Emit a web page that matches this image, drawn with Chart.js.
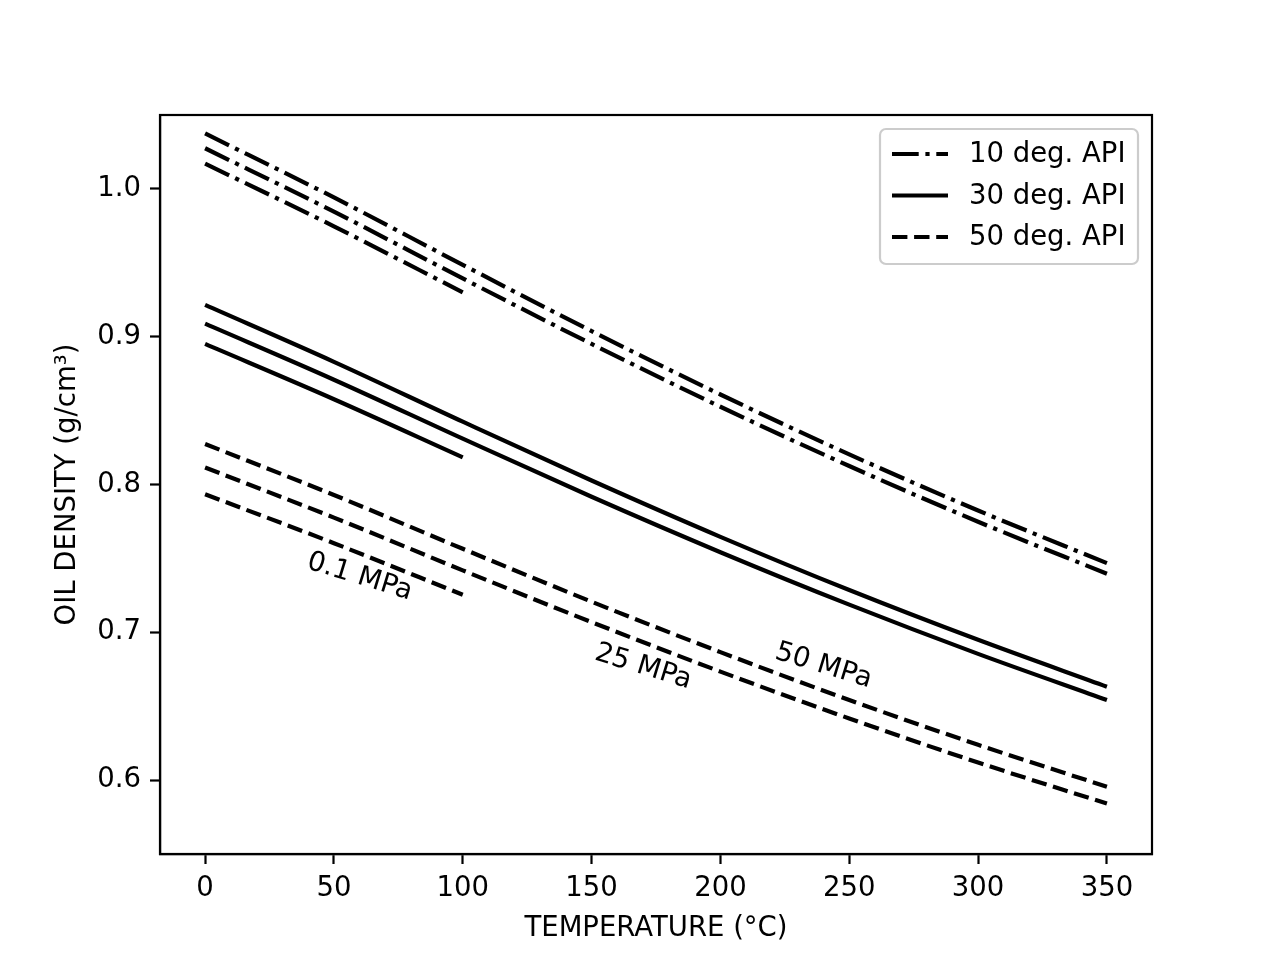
<!DOCTYPE html>
<html>
<head>
<meta charset="utf-8">
<script src="https://cdn.jsdelivr.net/npm/chart.js@4/dist/chart.umd.min.js"></script>
<style>
  html, body { margin: 0; padding: 0; background: #fff; }
  #wrap { width: 1280px; height: 960px; }
</style>
</head>
<body>
<div id="wrap"><canvas id="density-chart" width="1280" height="960"></canvas></div>
<script>
// temperature points (°C)
var temps = [0, 50, 100, 150, 200, 250, 300, 350];

// oil density, g/cm3 (0.1 MPa curves only go to 100 °C)
var api10_p01 = [1.0171, 0.9747, 0.9300, null, null, null, null, null];
var api10_p25 = [1.0275, 0.9846, 0.9394, 0.8951, 0.8526, 0.8125, 0.7748, 0.7396];
var api10_p50 = [1.0375, 0.9942, 0.9486, 0.9038, 0.8609, 0.8204, 0.7824, 0.7468];

var api30_p01 = [0.8951, 0.8577, 0.8184, null, null, null, null, null];
var api30_p25 = [0.9088, 0.8709, 0.8310, 0.7917, 0.7542, 0.7187, 0.6854, 0.6542];
var api30_p50 = [0.9215, 0.8830, 0.8425, 0.8027, 0.7646, 0.7286, 0.6949, 0.6632];

var api50_p01 = [0.7934, 0.7603, 0.7254, null, null, null, null, null];
var api50_p25 = [0.8115, 0.7776, 0.7419, 0.7069, 0.6734, 0.6417, 0.6119, 0.5841];
var api50_p50 = [0.8274, 0.7929, 0.7565, 0.7207, 0.6866, 0.6542, 0.6239, 0.5955];

var xTicks = [0, 50, 100, 150, 200, 250, 300, 350];
var yTicks = [0.6, 0.7, 0.8, 0.9, 1.0];

var legendNames = ['10 deg. API', '30 deg. API', '50 deg. API'];

// pressure labels, placed in data coordinates
var pressureText = ['0.1 MPa', '25 MPa', '50 MPa'];
var pressureAtT = [60, 170, 240];
var pressureAtRho = [0.7374, 0.6765, 0.6772];

var FONT = '"DejaVu Sans", "Liberation Sans", sans-serif';
var FS = 27.5;
var LW = 4.2;
var DASHDOT = [26.7, 6.7, 4.2, 6.7];
var DASHED = [15.4, 6.7];
var SOLID = [];

function toPoints(vals) {
    var pts = [];
    for (var i = 0; i < temps.length; i++) {
        if (vals[i] !== null) pts.push({x: temps[i], y: vals[i]});
    }
    return pts;
}

function makeSet(vals, dash) {
    return {
        data: toPoints(vals),
        borderColor: '#000',
        borderWidth: LW,
        borderDash: dash,
        borderCapStyle: 'butt',
        pointRadius: 0,
        fill: false,
        cubicInterpolationMode: 'monotone'
    };
}

// frame around the axes (top and right spines too)
var framePlugin = {
    id: 'frame',
    afterDatasetsDraw: function(chart) {
        var a = chart.chartArea, ctx = chart.ctx;
        ctx.save();
        ctx.strokeStyle = '#000';
        ctx.lineWidth = 2.2;
        ctx.strokeRect(a.left, a.top, a.right - a.left, a.bottom - a.top);
        ctx.restore();
    }
};

// rotated pressure labels
var pressurePlugin = {
    id: 'pressureLabels',
    afterDatasetsDraw: function(chart) {
        var ctx = chart.ctx, xs = chart.scales.x, ys = chart.scales.y;
        ctx.save();
        ctx.fillStyle = '#000';
        ctx.font = FS + 'px ' + FONT;
        ctx.textAlign = 'center';
        ctx.textBaseline = 'middle';
        for (var i = 0; i < pressureText.length; i++) {
            ctx.save();
            ctx.translate(xs.getPixelForValue(pressureAtT[i]), ys.getPixelForValue(pressureAtRho[i]));
            ctx.rotate(17 * Math.PI / 180);
            ctx.fillText(pressureText[i], 0, 0);
            ctx.restore();
        }
        ctx.restore();
    }
};

// matplotlib-style legend inside the upper right corner
var legendPlugin = {
    id: 'boxLegend',
    afterDraw: function(chart) {
        var a = chart.chartArea, ctx = chart.ctx;
        var w = 258, h = 135;
        var x0 = a.right - 14 - w, y0 = a.top + 14;
        var dashes = [DASHDOT, SOLID, DASHED];
        ctx.save();
        ctx.beginPath();
        if (ctx.roundRect) ctx.roundRect(x0, y0, w, h, 6); else ctx.rect(x0, y0, w, h);
        ctx.fillStyle = 'rgba(255,255,255,0.8)';
        ctx.fill();
        ctx.strokeStyle = '#cccccc';
        ctx.lineWidth = 2.2;
        ctx.stroke();
        ctx.font = FS + 'px ' + FONT;
        ctx.textAlign = 'left';
        ctx.textBaseline = 'middle';
        for (var i = 0; i < legendNames.length; i++) {
            var cy = y0 + 25 + i * 41.5;
            ctx.beginPath();
            ctx.setLineDash(dashes[i]);
            ctx.lineCap = 'butt';
            ctx.strokeStyle = '#000';
            ctx.lineWidth = LW;
            ctx.moveTo(x0 + 12, cy);
            ctx.lineTo(x0 + 68, cy);
            ctx.stroke();
            ctx.setLineDash([]);
            ctx.fillStyle = '#000';
            ctx.fillText(legendNames[i], x0 + 89, cy + 1);
        }
        ctx.restore();
    }
};

function createDensityChart() {
    var canvas = document.getElementById('density-chart');
    if (!canvas || typeof Chart === 'undefined') {
        console.error('Chart.js or canvas missing');
        return;
    }

    var datasets = [
        makeSet(api10_p01, DASHDOT), makeSet(api10_p25, DASHDOT), makeSet(api10_p50, DASHDOT),
        makeSet(api30_p01, SOLID), makeSet(api30_p25, SOLID), makeSet(api30_p50, SOLID),
        makeSet(api50_p01, DASHED), makeSet(api50_p25, DASHED), makeSet(api50_p50, DASHED)
    ];

    var tickFont = {family: FONT, size: FS};

    new Chart(canvas, {
        type: 'line',
        data: {datasets: datasets},
        options: {
            responsive: false,
            devicePixelRatio: 1,
            animation: false,
            layout: {padding: {top: 115, right: 128, left: 0, bottom: 0}},
            plugins: {legend: {display: false}, tooltip: {enabled: false}},
            scales: {
                x: {
                    type: 'linear',
                    min: -17.5,
                    max: 367.5,
                    afterBuildTicks: function(s) { s.ticks = xTicks.map(function(v) { return {value: v}; }); },
                    afterFit: function(s) { s.height = 106; },
                    ticks: {color: '#000', font: tickFont, padding: 8, maxRotation: 0},
                    grid: {drawOnChartArea: false, tickLength: 10, tickColor: '#000', tickWidth: 2.2},
                    border: {color: '#000', width: 2.2},
                    title: {display: true, text: 'TEMPERATURE (°C)', color: '#000', font: tickFont, padding: {top: 0, bottom: 15}}
                },
                y: {
                    type: 'linear',
                    min: 0.55,
                    max: 1.05,
                    afterBuildTicks: function(s) { s.ticks = yTicks.map(function(v) { return {value: v}; }); },
                    afterFit: function(s) { s.width = 160; },
                    ticks: {color: '#000', font: tickFont, padding: 9, callback: function(v) { return v.toFixed(1); }},
                    grid: {drawOnChartArea: false, tickLength: 10, tickColor: '#000', tickWidth: 2.2},
                    border: {color: '#000', width: 2.2},
                    title: {display: true, text: 'OIL DENSITY (g/cm³)', color: '#000', font: tickFont, padding: {top: 51, bottom: 0}}
                }
            }
        },
        plugins: [framePlugin, pressurePlugin, legendPlugin]
    });
}

document.addEventListener('DOMContentLoaded', function() {
    createDensityChart();
});
</script>
</body>
</html>
